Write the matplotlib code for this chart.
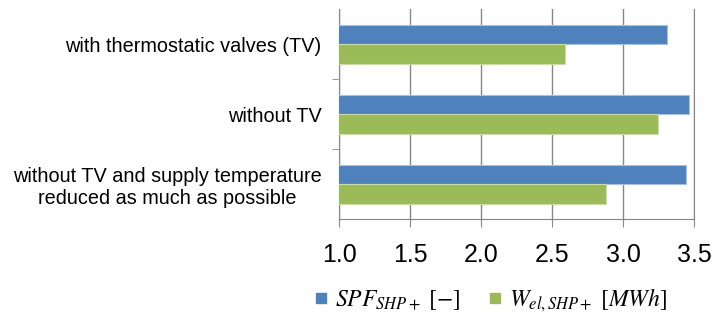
import matplotlib

matplotlib.use("Agg")
import matplotlib.pyplot as plt  # noqa: E402
from matplotlib.lines import Line2D  # noqa: E402

plt.rcParams["font.family"] = ["Liberation Sans", "DejaVu Sans"]
plt.rcParams["mathtext.fontset"] = "stix"

# data
categories = [
    "with thermostatic valves (TV)",
    "without TV",
    "without TV and supply temperature\nreduced as much as possible",
]
spf_values = [3.31, 3.46, 3.44]
wel_values = [2.59, 3.24, 2.88]
series_labels = [r"$SPF_{SHP+}\ [-]$", r"$W_{el,SHP+}\ [MWh]$"]
x_ticks = [1.0, 1.5, 2.0, 2.5, 3.0, 3.5]

BLUE = "#4F81BD"
GREEN = "#9BBB59"
GRID = "#878787"

fig = plt.figure(figsize=(7.13, 3.16), dpi=100)
ax = fig.add_axes([0.476, 0.306, 0.498, 0.665])

bar_h = 0.28
pos = list(range(len(categories)))
ax.barh([p - bar_h / 2 for p in pos], spf_values, height=bar_h, left=0,
        color=BLUE, edgecolor="#A9C0DE", linewidth=0.8, zorder=3)
ax.barh([p + bar_h / 2 for p in pos], wel_values, height=bar_h, left=0,
        color=GREEN, edgecolor="#C9DBA6", linewidth=0.8, zorder=3)

ax.set_xlim(1.0, 3.5)
ax.set_ylim(len(categories) - 0.5, -0.5)
ax.set_xticks(x_ticks, [f"{t:.1f}" for t in x_ticks], fontsize=18)
ax.set_yticks(pos, categories, fontsize=14.3, ha="right", multialignment="center")
ax.set_yticks([p + 0.5 for p in pos[:-1]], minor=True)

ax.tick_params(axis="y", which="major", length=0, pad=13)
ax.tick_params(axis="y", which="minor", length=5, color=GRID)
ax.tick_params(axis="x", length=6, color=GRID, pad=11)

ax.grid(axis="x", color=GRID, linewidth=1.0, zorder=0)
ax.spines["top"].set_visible(False)
ax.spines["right"].set_color(GRID)
ax.spines["left"].set_color(GRID)
ax.spines["bottom"].set_color(GRID)

handles = [
    Line2D([], [], marker="s", linestyle="none", markersize=7, color=BLUE),
    Line2D([], [], marker="s", linestyle="none", markersize=7, color=GREEN),
]
fig.legend(handles, series_labels, ncol=2, loc="center", bbox_to_anchor=(0.688, 0.05),
           frameon=False, fontsize=17, handlelength=0.6, handletextpad=0.3,
           columnspacing=1.15)

fig.savefig("out.png", dpi=100)
